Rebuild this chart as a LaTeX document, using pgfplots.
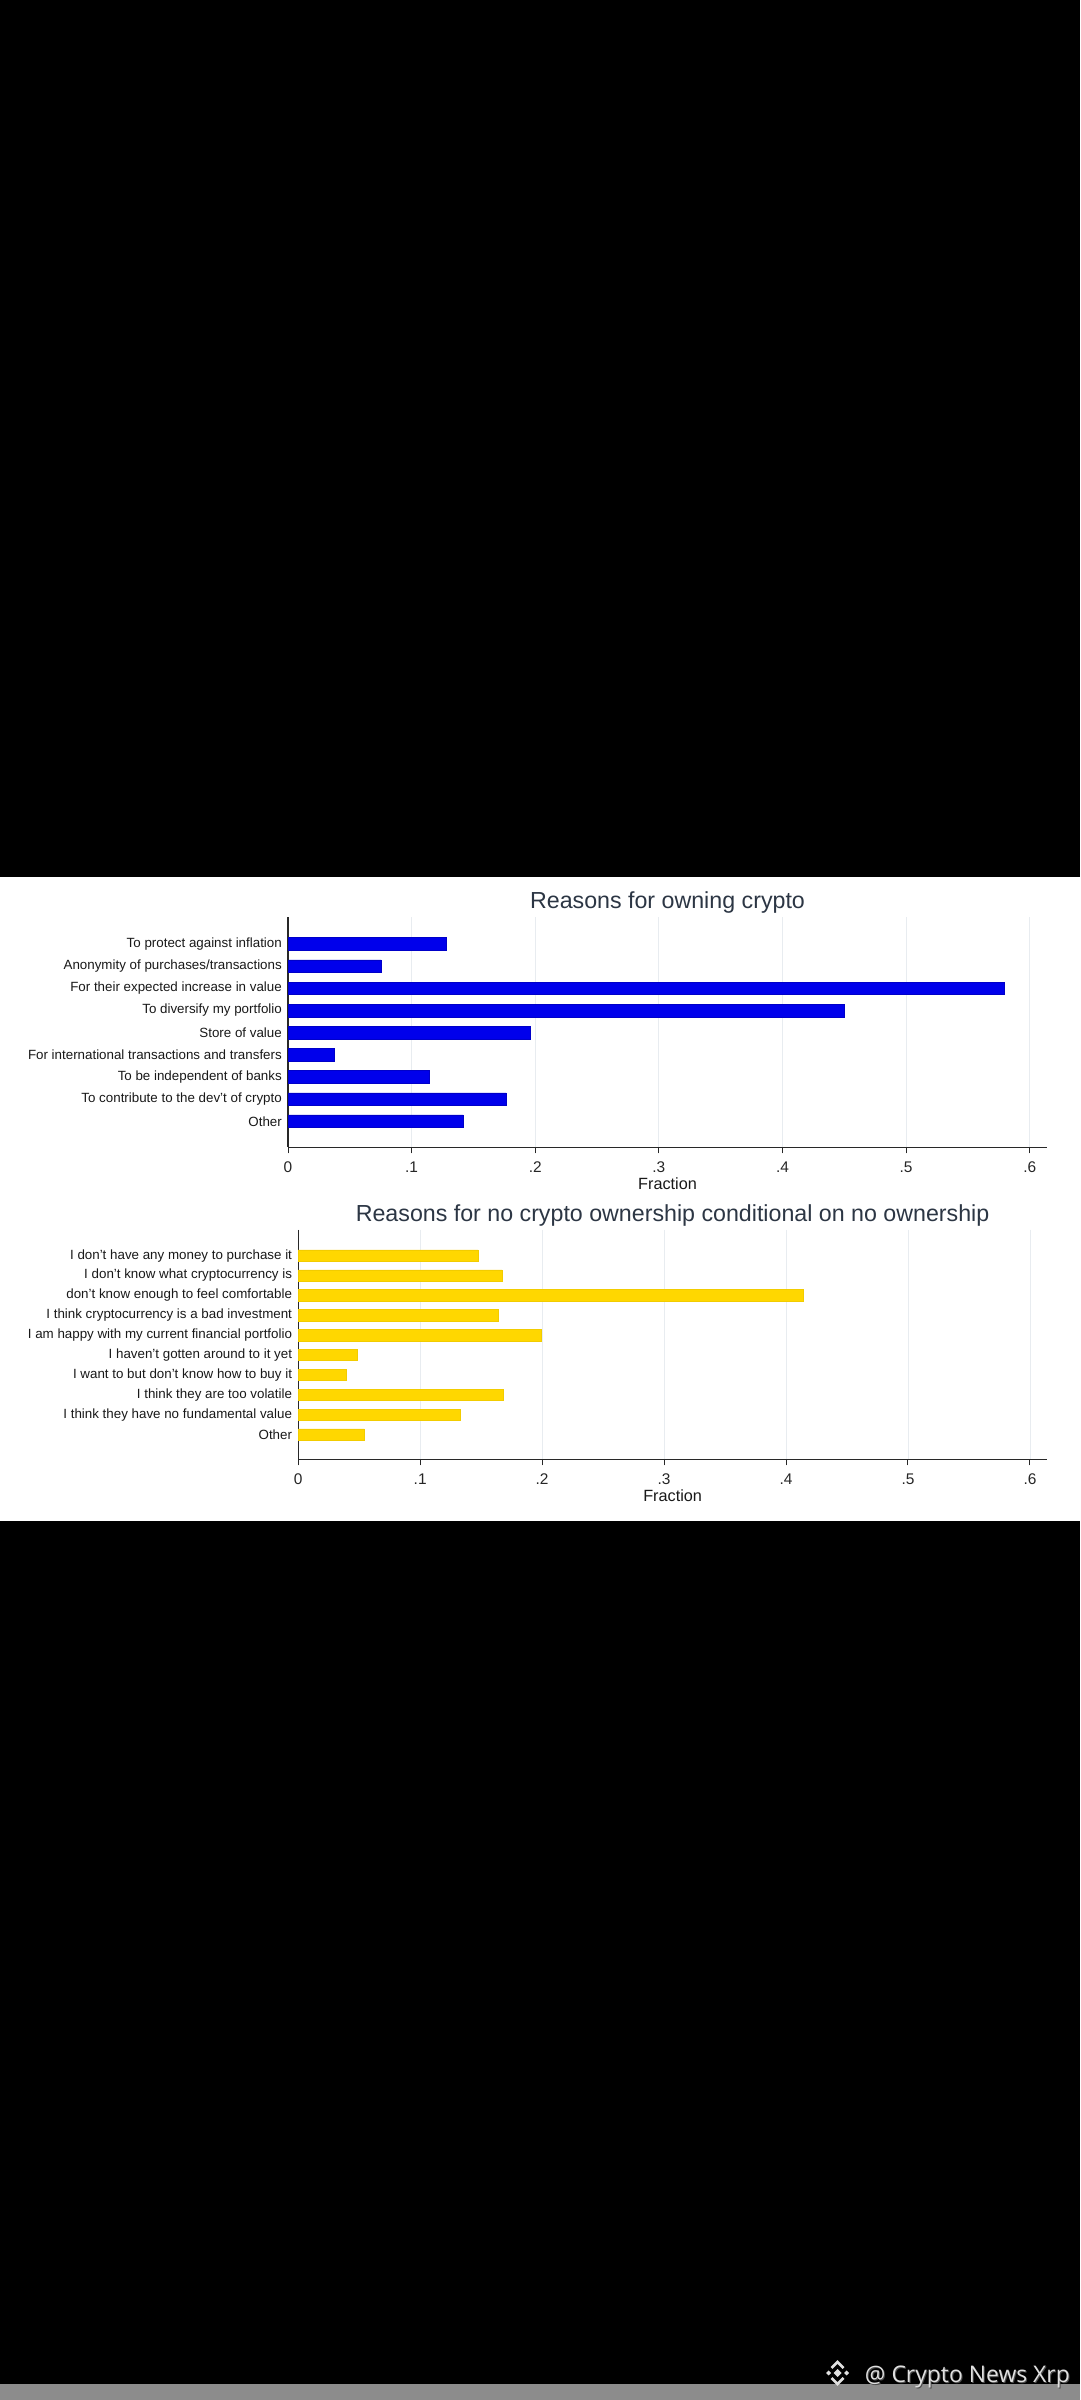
\documentclass[border=0pt]{standalone}
\usepackage{fontspec}
\setmainfont{Liberation Sans}
\newfontfamily\wmfont{Open Sans}
\usepackage{pgfplots}
\pgfplotsset{compat=1.18}
\definecolor{barblue}{RGB}{0,0,235}
\definecolor{bargold}{RGB}{255,215,0}
\definecolor{titlecol}{RGB}{44,54,68}
\definecolor{gridcol}{RGB}{232,236,240}
\definecolor{axiscol}{RGB}{40,40,40}
\definecolor{wmgray}{RGB}{140,140,140}

\pgfplotsset{
  stata/.style={
    scale only axis,
    xbar,
    xmin=0, xmax=0.614,
    y dir=reverse,
    axis x line*=bottom, axis y line*=left,
    axis line style={axiscol, line width=1.1bp, -},
    xtick={0,0.1,0.2,0.3,0.4,0.5,0.6},
    xticklabels={0,.1,.2,.3,.4,.5,.6},
    xtick align=outside,
    major tick length=6bp,
    xtick style={axiscol, line width=1bp},
    ytick style={draw=none},
    xmajorgrids, grid style={gridcol, line width=0.9bp},
    xticklabel style={font=\fontsize{15.5}{18}\selectfont, anchor=base, inner sep=0pt, yshift=-19.4bp, text=black!85},
    yticklabel style={font=\fontsize{13.4}{15}\selectfont, anchor=east, inner sep=0pt, text=black!90},
    xlabel={Fraction},
    xlabel style={font=\fontsize{16.3}{18}\selectfont, at={(axis description cs:0.5,0)}, anchor=base, inner sep=0pt, yshift=-42.7bp, text=black!90},
    title style={font=\fontsize{23.3}{26}\selectfont, text=titlecol, at={(axis description cs:0.5,1)}, anchor=base, inner sep=0pt, yshift=2.5bp},
    clip=false,
  }
}

\begin{document}
\begin{tikzpicture}[x=1bp,y=1bp]
\fill[black] (0,0) rectangle (1080,2400);
\fill[white] (0,879) rectangle (1080,1523);
\fill[wmgray] (0,0) rectangle (1080,16);

% Top chart
\begin{axis}[stata,
  at={(288bp,1252.7bp)}, anchor=south west,
  width=759bp, height=229.8bp,
  ymin=-0.2, ymax=10.17,
  bar width=12.7bp,
  ytick={1,2,3,4,5,6,7,8,9},
  yticklabels={To protect against inflation,
    Anonymity of purchases/transactions,
    For their expected increase in value,
    To diversify my portfolio,
    Store of value,
    For international transactions and transfers,
    To be independent of banks,
    To contribute to the dev't of crypto,
    Other},
  title={Reasons for owning crypto},
]
\addplot[fill=barblue, draw=barblue!85!black, line width=0.6bp] coordinates {
  (0.128,1) (0.0754,2) (0.5795,3) (0.450,4) (0.196,5)
  (0.0372,6) (0.114,7) (0.1765,8) (0.1417,9)};
\end{axis}

% Bottom chart
\begin{axis}[stata,
  at={(298.2bp,940.7bp)}, anchor=south west,
  width=748.8bp, height=229.3bp,
  ymin=-0.29, ymax=11.24,
  bar width=11.3bp,
  ytick={1,2,3,4,5,6,7,8,9,10},
  yticklabels={I don't have any money to purchase it,
    I don't know what cryptocurrency is,
    don't know enough to feel comfortable\ ,
    I think cryptocurrency is a bad investment,
    I am happy with my current financial portfolio,
    I haven't gotten around to it yet,
    I want to but don't know how to buy it,
    I think they are too volatile,
    I think they have no fundamental value,
    Other},
  title={Reasons for no crypto ownership conditional on no ownership},
]
\addplot[fill=bargold, draw=bargold!95!black, line width=0.6bp] coordinates {
  (0.1475,1) (0.167,2) (0.4144,3) (0.1638,4) (0.1990,5)
  (0.0486,6) (0.0395,7) (0.1684,8) (0.1328,9) (0.0542,10)};
\end{axis}

% Watermark
\begin{scope}[shift={(837.5,27)}]
  \fill[white!88!black] (0,-4) -- (4,0) -- (0,4) -- (-4,0) -- cycle;
  \fill[white!88!black] (-9,-2.5) -- (-6.5,0) -- (-9,2.5) -- (-11.5,0) -- cycle;
  \fill[white!88!black] (9,-2.5) -- (11.5,0) -- (9,2.5) -- (6.5,0) -- cycle;
  \draw[white!88!black, line width=2.6bp] (-6,5) -- (0,11) -- (6,5);
  \draw[white!88!black, line width=2.6bp] (-6,-5) -- (0,-11) -- (6,-5);
\end{scope}
\node[anchor=base east, inner sep=0pt, text=black!70, font=\wmfont\fontsize{23}{26}\selectfont] at (1071,16) {@ Crypto News Xrp};
\node[anchor=base east, inner sep=0pt, text=white!88!black, font=\wmfont\fontsize{23}{26}\selectfont] at (1070,17) {@ Crypto News Xrp};

\pgfresetboundingbox
\path (0,0) rectangle (1080,2400);
\end{tikzpicture}
\end{document}
